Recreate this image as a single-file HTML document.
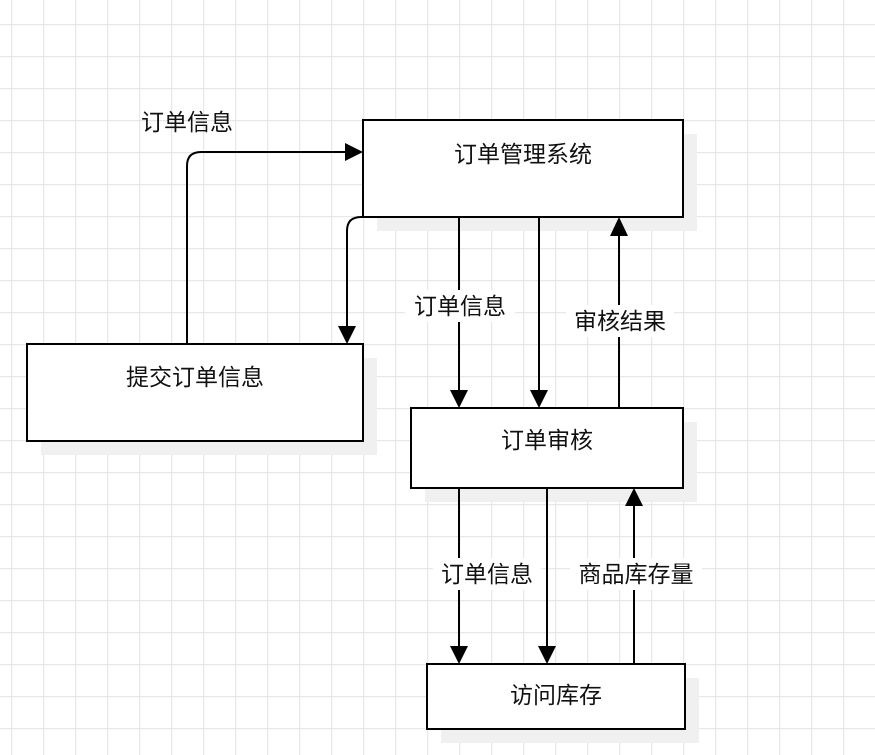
<!DOCTYPE html>
<html><head><meta charset="utf-8"><style>
html,body{margin:0;padding:0;background:#fff;}
svg{display:block;}
text{font-family:"Liberation Sans","Noto Sans CJK SC",sans-serif;font-size:23px;fill:#111;}
</style></head><body>
<svg width="875" height="755" viewBox="0 0 875 755" xmlns="http://www.w3.org/2000/svg">
<defs>
<pattern id="g" x="11" y="24" width="32" height="32" patternUnits="userSpaceOnUse">
<path d="M0.5 0V32M0 0.5H32" stroke="#e8e8e8" stroke-width="1.5" fill="none"/>
</pattern>
</defs>
<rect width="875" height="755" fill="#fff"/>
<rect x="0" y="0" width="875" height="755" fill="url(#g)"/>
<!-- shadows -->
<g fill="#f0f0f0">
<rect x="377" y="134" width="320" height="97"/>
<rect x="41" y="358" width="336" height="97"/>
<rect x="425" y="422" width="272" height="80"/>
<rect x="441" y="678" width="258" height="65"/>
</g>
<!-- boxes -->
<g fill="#fff" stroke="#000" stroke-width="2">
<rect x="363" y="120" width="320" height="97"/>
<rect x="27" y="344" width="336" height="97"/>
<rect x="411" y="408" width="272" height="80"/>
<rect x="427" y="664" width="258" height="65"/>
</g>
<!-- connectors -->
<g stroke="#000" stroke-width="2" fill="none">
<path d="M187 344V166Q187 152 201 152H345"/>
<path d="M363 217H361Q347 217 347 231V326"/>
<path d="M459 217V390"/>
<path d="M539 217V390"/>
<path d="M619 408V236"/>
<path d="M459 488V646"/>
<path d="M547 488V646"/>
<path d="M634 664V506"/>
</g>
<g fill="#000">
<path d="M345 143L363 152L345 161Z"/>
<path d="M338 326L347 344L356 326Z"/>
<path d="M450 390L459 408L468 390Z"/>
<path d="M530 390L539 408L548 390Z"/>
<path d="M610 236L619 217L628 236Z"/>
<path d="M450 646L459 664L468 646Z"/>
<path d="M538 646L547 664L556 646Z"/>
<path d="M625 506L634 488L643 506Z"/>
</g>
<!-- labels -->
<g fill="#fff">
<rect x="405" y="290" width="110" height="32"/>
<rect x="566" y="305" width="108" height="32"/>
<rect x="433" y="558" width="108" height="32"/>
<rect x="570" y="558" width="132" height="32"/>
</g>
<text x="187" y="130" text-anchor="middle">订单信息</text>
<text x="523" y="162" text-anchor="middle">订单管理系统</text>
<text x="195" y="385" text-anchor="middle">提交订单信息</text>
<text x="460" y="314" text-anchor="middle">订单信息</text>
<text x="620" y="329" text-anchor="middle">审核结果</text>
<text x="547" y="448" text-anchor="middle">订单审核</text>
<text x="487" y="582" text-anchor="middle">订单信息</text>
<text x="636" y="582" text-anchor="middle">商品库存量</text>
<text x="556" y="703" text-anchor="middle">访问库存</text>
</svg>
</body></html>
